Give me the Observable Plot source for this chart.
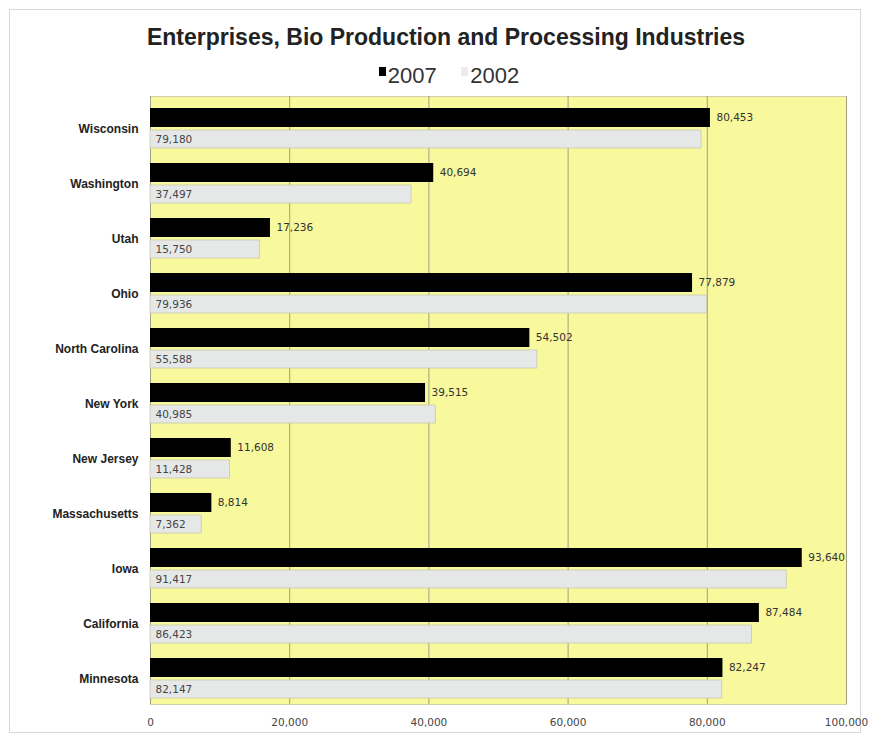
<!DOCTYPE html>
<html>
<head>
<meta charset="utf-8">
<script src="https://cdn.jsdelivr.net/npm/d3@7"></script>
<script src="https://cdn.jsdelivr.net/npm/@observablehq/plot@0.6"></script>
<style>
  html, body { margin: 0; padding: 0; background: #fff; }
  #wrap { position: relative; width: 872px; height: 742px; font-family: "Liberation Sans", Arial, sans-serif; }
  #border { position: absolute; left: 9px; top: 9px; width: 852px; height: 724px; border: 1px solid #d8d8d8; box-sizing: border-box; }
  #title { position: absolute; top: 24px; left: 0; width: 892px; text-align: center; font-weight: bold; font-size: 23px; color: #222; }
  #legend { position: absolute; top: 63px; left: 0; width: 898px; text-align: center; font-size: 22px; color: #333; }
  #legend span.sw { display: inline-block; width: 7px; height: 9px; margin-right: 2px; vertical-align: 7px; }
  #chart { position: absolute; top: 86px; left: 0; }
</style>
</head>
<body>
<div id="wrap">
  <div id="border"></div>
  <div id="title">Enterprises, Bio Production and Processing Industries</div>
  <div id="legend"><span class="sw" style="background:#000"></span>2007 &nbsp;&nbsp;&nbsp;<span class="sw" style="background:#ececec"></span>2002</div>
  <div id="chart"></div>
</div>
<script>
const states = ["Wisconsin", "Washington", "Utah", "Ohio", "North Carolina", "New York", "New Jersey", "Massachusetts", "Iowa", "California", "Minnesota"];
const v2007 = [80453, 40694, 17236, 77879, 54502, 39515, 11608, 8814, 93640, 87484, 82247];
const v2002 = [79180, 37497, 15750, 79936, 55588, 40985, 11428, 7362, 91417, 86423, 82147];
const xTicks = [0, 20000, 40000, 60000, 80000, 100000];

const rows = states.map((s, i) => ({state: s, a: v2007[i], b: v2002[i]}));
const fmt = d3.format(",");
const small = "'DejaVu Sans', Verdana, sans-serif";

const chart = Plot.plot({
  width: 872,
  height: 656,
  marginTop: 10,
  marginBottom: 38,
  marginLeft: 150,
  marginRight: 26,
  style: {background: "transparent", fontFamily: "'Liberation Sans', Arial, sans-serif"},
  x: {domain: [0, 100000], ticks: xTicks, tickFormat: fmt, label: null, tickSize: 0, tickPadding: 12},
  y: {domain: states, padding: 0, label: null, tickSize: 0, tickPadding: 12},
  marks: [
    Plot.frame({fill: "#f8f89c", stroke: "#d0d0b0"}),
    Plot.ruleX(xTicks, {stroke: "#a0a080", strokeWidth: 1}),
    Plot.barX(rows, {y: "state", x: "a", fill: "#000", insetTop: 10, insetBottom: 26}),
    Plot.barX(rows, {y: "state", x: "b", fill: "#e6e8e8", stroke: "#c8c8b0", strokeWidth: 0.8, insetTop: 32, insetBottom: 5}),
    Plot.text(rows, {y: "state", x: "a", text: d => fmt(d.a), dx: 6, dy: -8, textAnchor: "start", fontSize: 10.5, fontFamily: small, fill: "#333"}),
    Plot.text(rows, {y: "state", x: 0, text: d => fmt(d.b), dx: 5, dy: 14, textAnchor: "start", fontSize: 10.5, fontFamily: small, fill: "#444"}),
    Plot.axisY({tickSize: 0, tickPadding: 12, dy: 3, fontWeight: "bold", fontSize: 12, fill: "#222", label: null}),
    Plot.axisX({ticks: xTicks, tickFormat: fmt, tickSize: 0, tickPadding: 14, fontSize: 10.5, fontFamily: small, fill: "#444", label: null})
  ]
});
document.getElementById("chart").appendChild(chart);
</script>
</body>
</html>
